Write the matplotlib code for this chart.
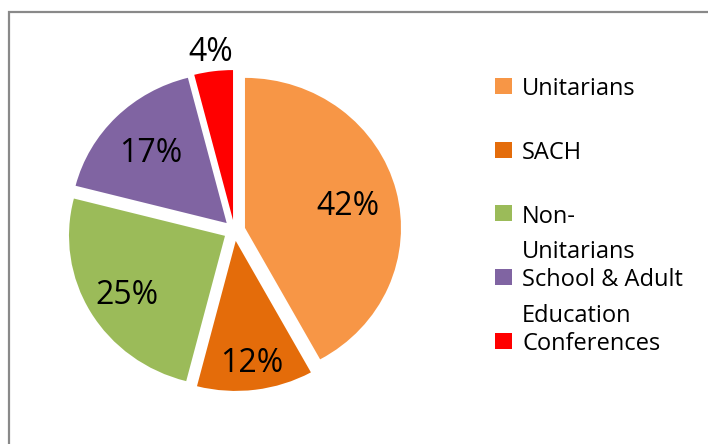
import matplotlib.pyplot as plt
from matplotlib.patches import Rectangle
import numpy as np

plt.rcParams['font.family'] = ['Open Sans', 'DejaVu Sans']

categories = ['Unitarians', 'SACH', 'Non-Unitarians', 'School & Adult Education', 'Conferences']
legend_lines = [['Unitarians'], ['SACH'], ['Non-', 'Unitarians'], ['School & Adult', 'Education'], ['Conferences']]
shares = [42, 12, 25, 17, 4]
colors = ['#F79646', '#E46C0A', '#9BBB59', '#8064A2', '#FF0000']
# distance of each percentage label from the slice tip (fraction of radius)
label_dist = [0.68, 0.80, 0.73, 0.69, 1.15]

W, H = 708, 444
fig = plt.figure(figsize=(W / 100, H / 100), dpi=100)

# outer chart border (runs off right and bottom edges)
fig.patches.append(Rectangle((9 / W, -0.1), 1.2, (H - 12) / H + 0.1,
                             transform=fig.transFigure, fill=False,
                             edgecolor='#898989', linewidth=1.6))

rx, ry = 156, 150
cx, cy = 234.4, 230.5
lim = 1.3
ax = fig.add_axes([(cx - lim * rx) / W, (H - cy - lim * ry) / H,
                   2 * lim * rx / W, 2 * lim * ry / H])

explode = 0.07
wedges, texts, autotexts = ax.pie(shares, colors=colors, startangle=90, counterclock=False,
                                  explode=[explode] * len(shares), autopct='%.0f%%',
                                  textprops=dict(fontsize=23, color='black'))
ax.set_xlim(-lim, lim)
ax.set_ylim(-lim, lim)
ax.set_aspect('auto')

for w, t, dist in zip(wedges, autotexts, label_dist):
    mid = np.deg2rad((w.theta1 + w.theta2) / 2)
    t.set_position(((dist + explode) * np.cos(mid), (dist + explode) * np.sin(mid)))
    t.set_va('center_baseline')

# legend drawn by hand so wrapped labels hang below their first line
y0, step, line_gap = 86, 63.75, 36
for i, (lines, c) in enumerate(zip(legend_lines, colors)):
    y = y0 + i * step
    fig.patches.append(Rectangle((495 / W, (H - y - 8) / H), 17 / W, 16 / H,
                                 transform=fig.transFigure, facecolor=c, edgecolor='none'))
    for k, line in enumerate(lines):
        fig.text(522 / W, (H - y - k * line_gap) / H, line, fontsize=17,
                 va='center_baseline', ha='left', color='black')

fig.savefig('out.png', dpi=100)
